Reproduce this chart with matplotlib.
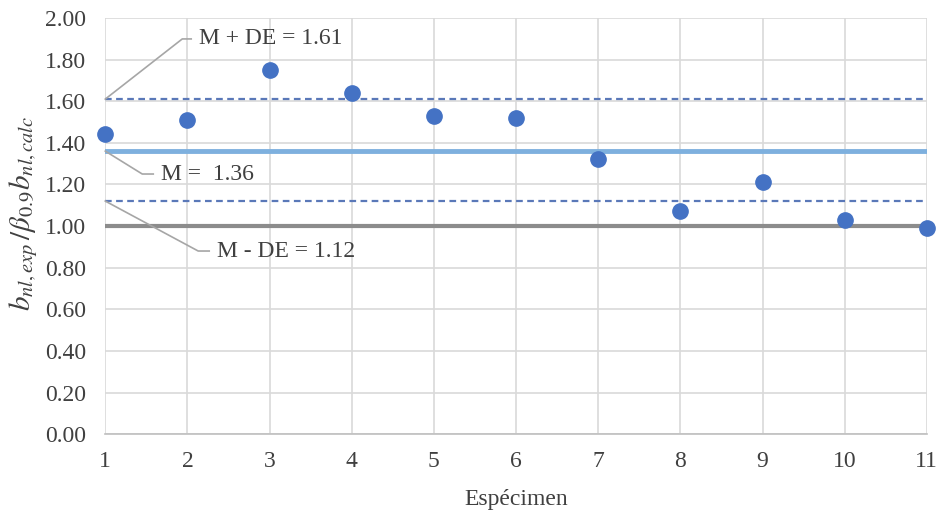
import matplotlib.pyplot as plt
import numpy as np

# data
specimen = [1, 2, 3, 4, 5, 6, 7, 8, 9, 10, 11]
ratio = [1.44, 1.51, 1.75, 1.64, 1.53, 1.52, 1.32, 1.07, 1.21, 1.03, 0.99]
mean_val = 1.36
upper_val = 1.61
lower_val = 1.12
unity = 1.00

plt.rcParams['font.family'] = ['Liberation Serif', 'DejaVu Serif']
plt.rcParams['mathtext.fontset'] = 'stix'

fig = plt.figure(figsize=(9.4, 5.12), dpi=100)
ax = fig.add_axes([0.112, 0.152, 0.874, 0.813])

txt = '#404040'

# reference lines
xs = [specimen[0], specimen[-1]]
ax.plot(xs, [unity, unity], color='#8c8c8c', lw=3, zorder=2)
ax.plot(xs, [mean_val, mean_val], color='#7eb0de', lw=3.5, zorder=2)
ax.plot(xs, [upper_val, upper_val], color='#5a78b8', lw=1.6, ls=(0, (3, 2)), zorder=2)
ax.plot(xs, [lower_val, lower_val], color='#5a78b8', lw=1.6, ls=(0, (3, 2)), zorder=2)

# data points
ax.plot(specimen, ratio, 'o', color='#4472c4', ms=11, zorder=4, clip_on=False)

# callouts
callouts = [
    (upper_val, 1.937, 1.899, 2.046, 'M + DE = %.2f' % upper_val),
    (mean_val, 1.45, 1.25, 1.584, 'M =  %.2f' % mean_val),
    (lower_val, 2.131, 0.88, 2.265, 'M - DE = %.2f' % lower_val),
]
for yv, ex, ey, hx, label in callouts:
    ax.plot([1, ex, hx], [yv, ey, ey], color='#a6a6a6', lw=1.2, zorder=3, clip_on=False)
    ax.text(hx + 0.09, ey, label, fontsize=17, color=txt, va='center', ha='left')

ax.set_xlim(1, 11)
ax.set_ylim(0, 2.0)
ax.set_xticks(specimen)
ax.set_yticks(np.arange(0, 2.01, 0.2))
ax.set_yticklabels(['%.2f' % v for v in np.arange(0, 2.01, 0.2)])
ax.grid(True, color='#d9d9d9', lw=1.2, zorder=0)
ax.set_axisbelow(True)
for s in ['top', 'right', 'left']:
    ax.spines[s].set_visible(False)
ax.spines['bottom'].set_color('#bfbfbf')
ax.spines['bottom'].set_linewidth(1.2)
ax.tick_params(length=0, labelsize=17, colors=txt, pad=12)
ax.tick_params(axis='y', pad=14)

ax.set_xlabel('Espécimen', fontsize=17, color=txt, labelpad=12)
ax.set_ylabel(r'$b_{nl,exp}\,/\beta_{0.9}b_{nl,calc}$', fontsize=21, color=txt)
ax.yaxis.set_label_coords(-0.08, 0.53)

plt.savefig('out.png', dpi=100)
